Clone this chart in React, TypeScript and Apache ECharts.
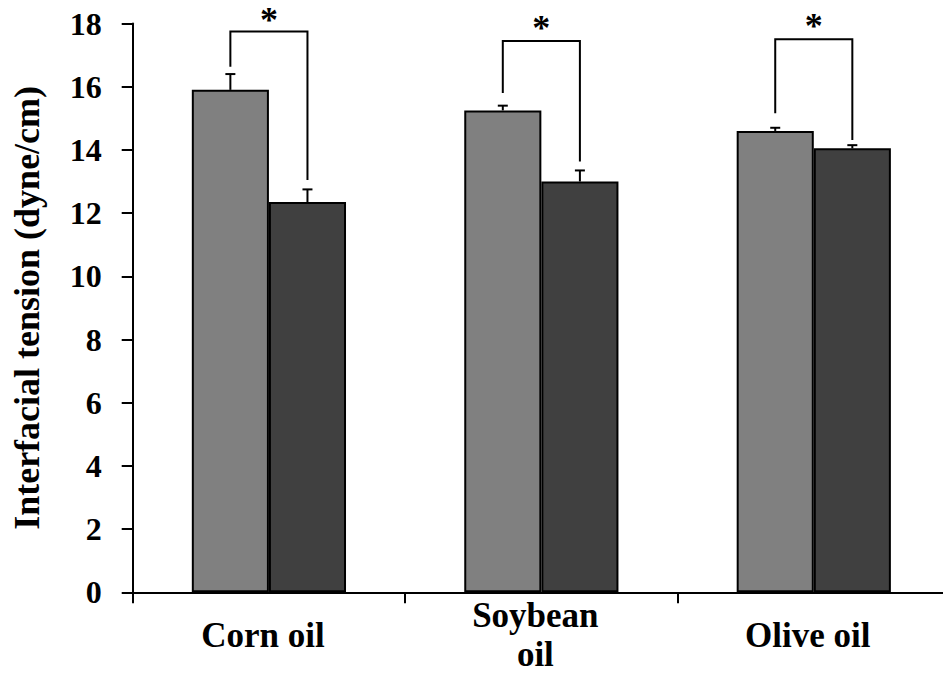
import React, { useEffect, useRef } from "react";
import * as echarts from "echarts";

const categories = ["Corn oil", "Soybean\noil", "Olive oil"];
const lightValues = [15.9, 15.25, 14.6];
const lightErrors = [0.5, 0.15, 0.1];
const darkValues = [12.35, 13.0, 14.05];
const darkErrors = [0.4, 0.35, 0.1];
const bracketTop = [17.75, 17.45, 17.5];
const bracketLeftEnd = [16.63, 15.8, 15.16];
const bracketRightEnd = [13.05, 13.63, 14.31];
const starLevel = [18.1, 17.85, 17.92];
const yTicks = { min: 0, max: 18, interval: 2 };

const FONT = "'Liberation Serif', 'Times New Roman', serif";
const BAR_FRAC = 0.283;

export default function App() {
  const ref = useRef<HTMLDivElement>(null);
  useEffect(() => {
    if (!ref.current) return;
    const chart = echarts.init(ref.current, null, { renderer: "svg" });

    const errRender = (sign: number) => (params: any, api: any) => {
      const idx = api.value(0);
      const v = api.value(1);
      const e = api.value(2);
      const band = api.size([1, 0])[0];
      const off = (sign * band * BAR_FRAC) / 2;
      const p0 = api.coord([idx, v]);
      const p1 = api.coord([idx, v + e]);
      const x = p0[0] + off;
      return {
        type: "group",
        children: [
          { type: "line", shape: { x1: x, y1: p0[1], x2: x, y2: p1[1] }, style: { stroke: "#000", lineWidth: 2 } },
          { type: "line", shape: { x1: x - 5, y1: p1[1], x2: x + 5, y2: p1[1] }, style: { stroke: "#000", lineWidth: 2 } },
        ],
      };
    };

    const bracketRender = (params: any, api: any) => {
      const idx = api.value(0);
      const band = api.size([1, 0])[0];
      const off = (band * BAR_FRAC) / 2;
      const c = api.coord([idx, api.value(1)]);
      const xl = c[0] - off;
      const xr = c[0] + off;
      const yt = c[1];
      const yl = api.coord([idx, api.value(2)])[1];
      const yr = api.coord([idx, api.value(3)])[1];
      const ys = api.coord([idx, api.value(4)])[1];
      return {
        type: "group",
        children: [
          {
            type: "polyline",
            shape: { points: [[xl, yl], [xl, yt], [xr, yt], [xr, yr]] },
            style: { stroke: "#000", lineWidth: 2, fill: null },
          },
          {
            type: "text",
            x: c[0],
            y: ys,
            style: {
              text: "*",
              font: `bold 36px ${FONT}`,
              fill: "#000",
              align: "center",
              verticalAlign: "middle",
            },
          },
        ],
      };
    };

    chart.setOption({
      animation: false,
      backgroundColor: "#fff",
      grid: { left: 132.7, right: -7, top: 23.5, bottom: 82.7, outerBoundsMode: "none", containLabel: false },
      xAxis: {
        type: "category",
        data: categories,
        axisLine: { lineStyle: { color: "#000", width: 2 } },
        axisTick: { show: true, length: 11, lineStyle: { color: "#000", width: 2 } },
        axisLabel: {
          color: "#000",
          fontFamily: FONT,
          fontWeight: "bold",
          fontSize: 35,
          lineHeight: 39,
          verticalAlign: "middle",
          margin: 43,
          padding: [0, 12, 0, 0],
        },
      },
      yAxis: {
        type: "value",
        min: yTicks.min,
        max: yTicks.max,
        interval: yTicks.interval,
        name: "Interfacial tension (dyne/cm)",
        nameLocation: "middle",
        nameRotate: 90,
        nameGap: 88,
        nameTextStyle: { color: "#000", fontFamily: FONT, fontWeight: "bold", fontSize: 36 },
        axisLine: { show: true, lineStyle: { color: "#000", width: 2 } },
        axisTick: { show: true, length: 11, lineStyle: { color: "#000", width: 2 } },
        splitLine: { show: false },
        axisLabel: { color: "#000", fontFamily: FONT, fontWeight: "bold", fontSize: 32, margin: 31 },
      },
      series: [
        {
          type: "bar",
          data: lightValues,
          barWidth: `${BAR_FRAC * 100}%`,
          barGap: "0%",
          itemStyle: { color: "#808080", borderColor: "#000", borderWidth: 2 },
        },
        {
          type: "bar",
          data: darkValues,
          barWidth: `${BAR_FRAC * 100}%`,
          barGap: "0%",
          itemStyle: { color: "#404040", borderColor: "#000", borderWidth: 2 },
        },
        {
          type: "custom",
          renderItem: errRender(-1),
          data: lightValues.map((v, i) => [i, v, lightErrors[i]]),
          encode: { x: 0, y: 1 },
          z: 1,
        },
        {
          type: "custom",
          renderItem: errRender(1),
          data: darkValues.map((v, i) => [i, v, darkErrors[i]]),
          encode: { x: 0, y: 1 },
          z: 1,
        },
        {
          type: "custom",
          renderItem: bracketRender,
          data: bracketTop.map((t, i) => [i, t, bracketLeftEnd[i], bracketRightEnd[i], starLevel[i]]),
          encode: { x: 0, y: 1 },
          z: 3,
        },
      ],
    });
    return () => chart.dispose();
  }, []);
  return <div ref={ref} style={{ position: "fixed", left: 0, top: 0, width: 943, height: 675 }} />;
}
